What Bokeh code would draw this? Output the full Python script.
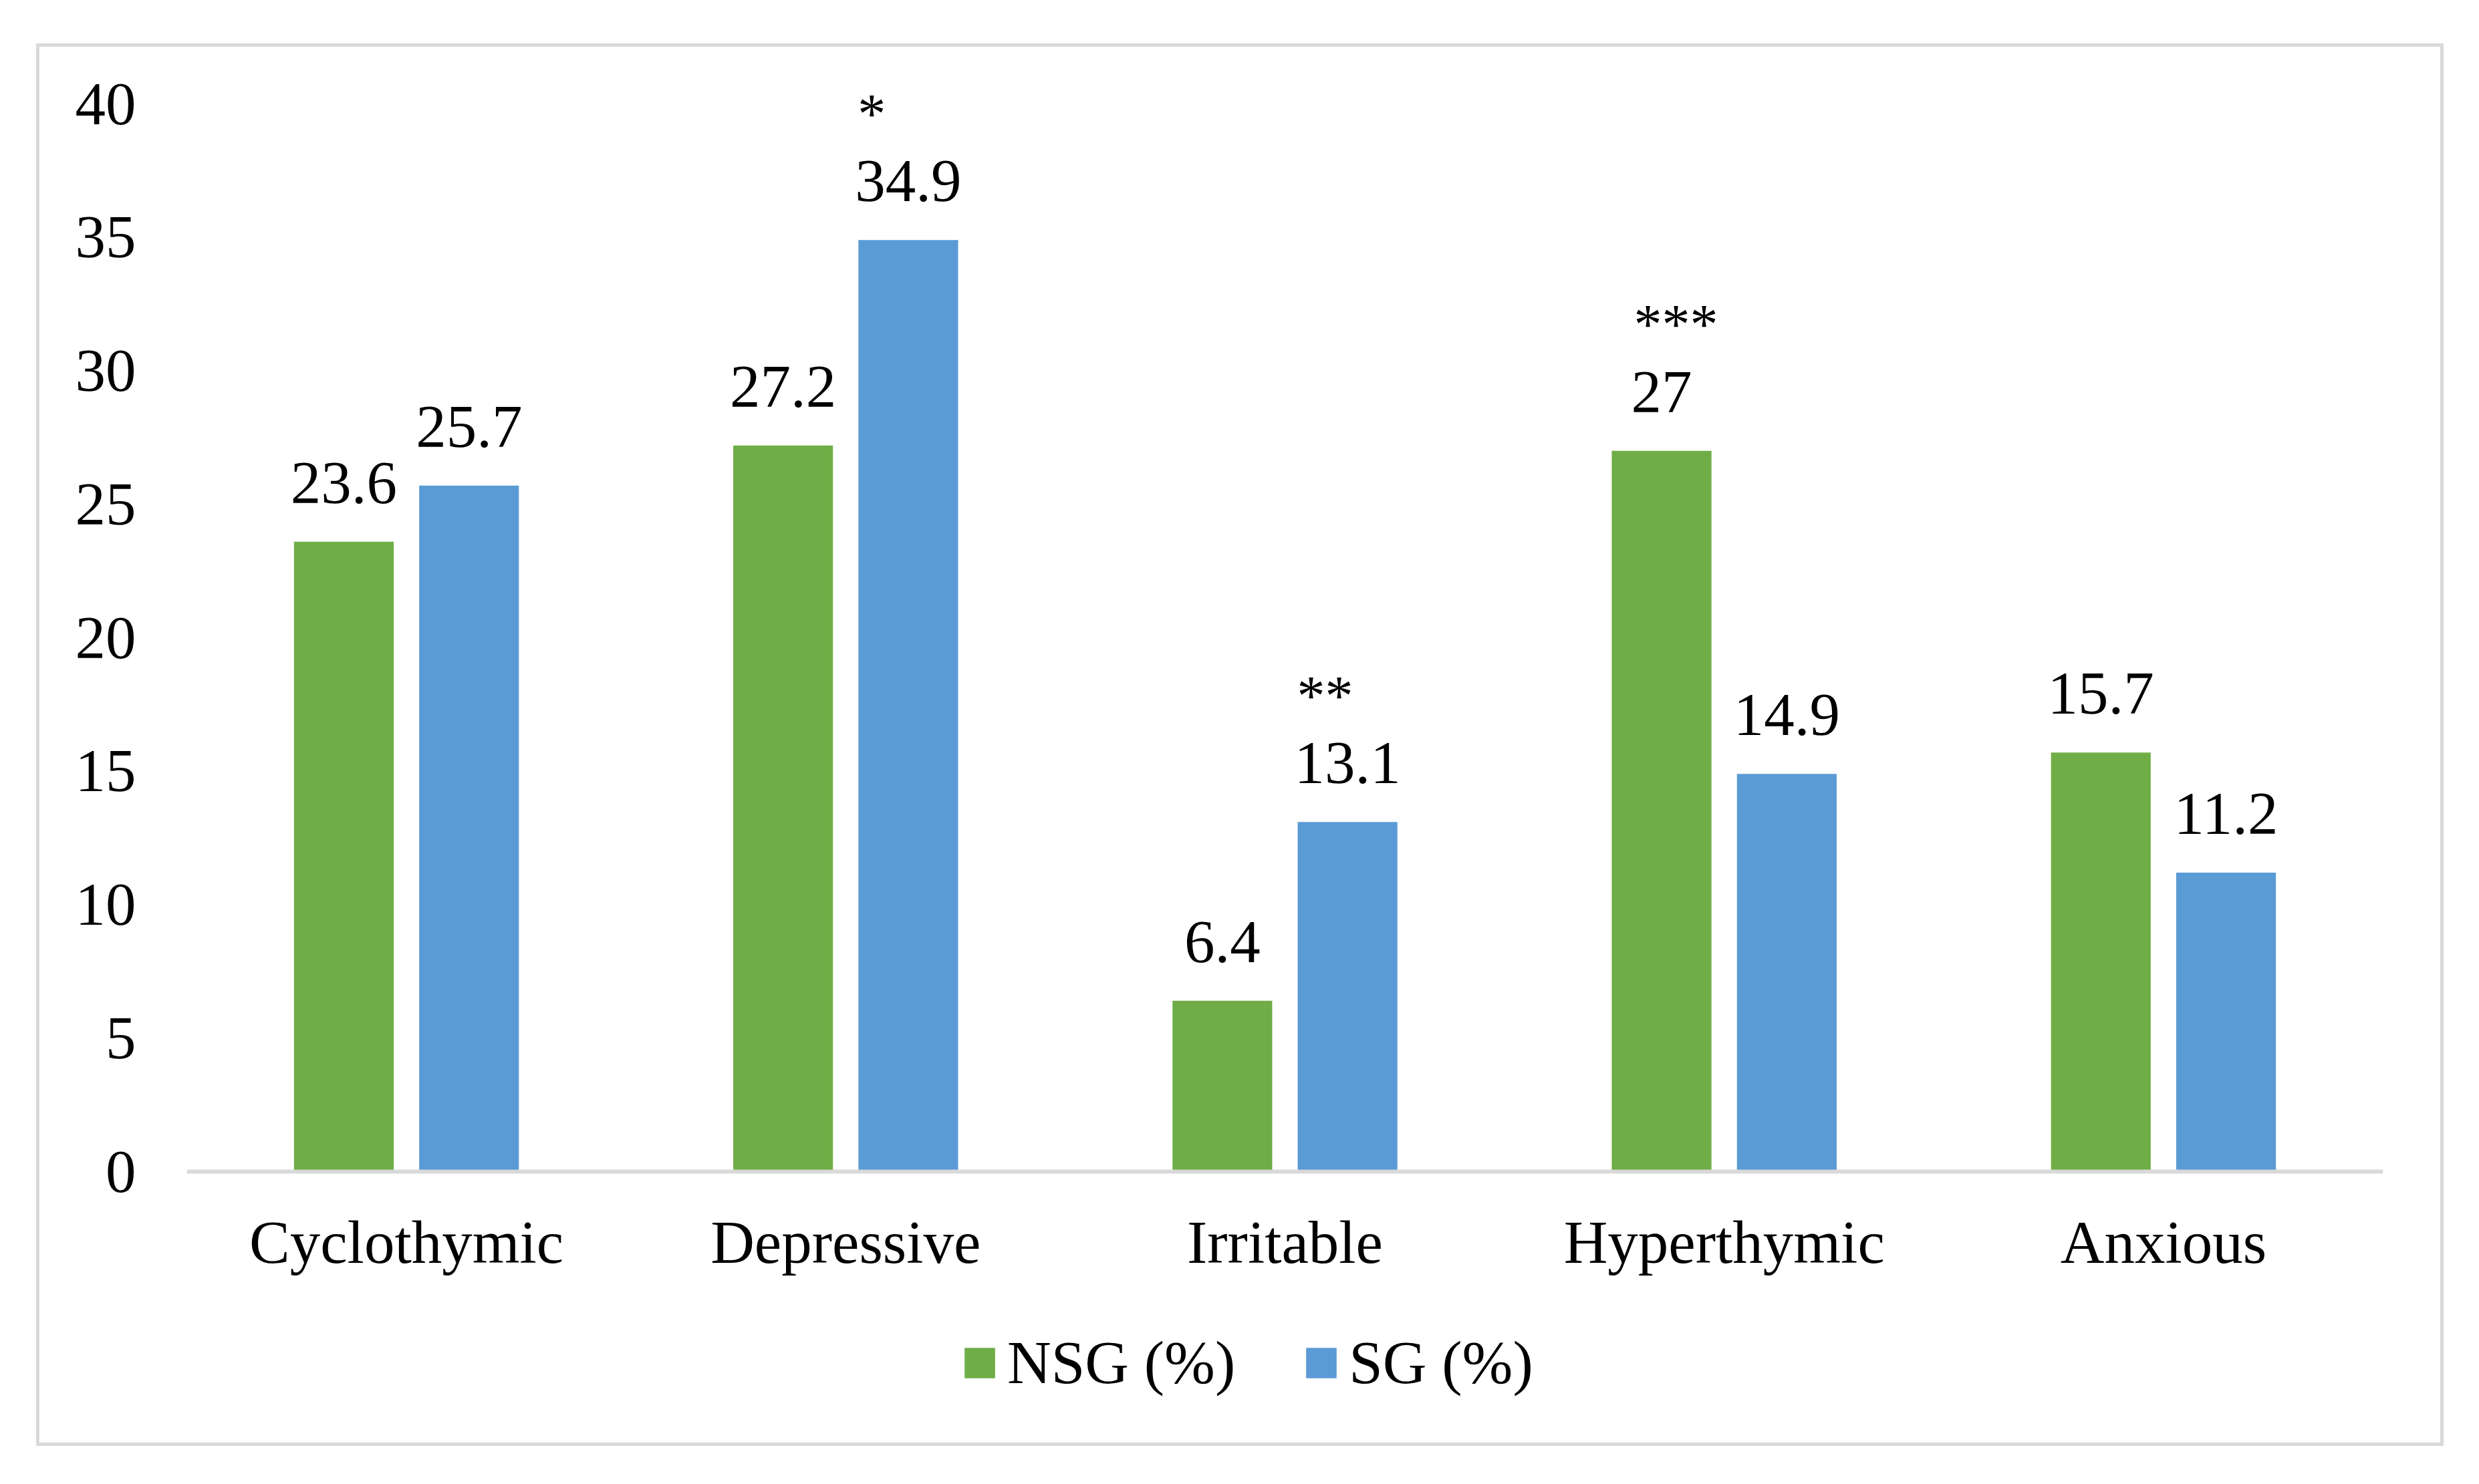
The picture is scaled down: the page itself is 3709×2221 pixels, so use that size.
from bokeh.plotting import figure
from bokeh.models import (ColumnDataSource, FactorRange, FixedTicker, Legend,
                          LegendItem, Range1d, Span)
from bokeh.transform import dodge
from bokeh.core.properties import value
from bokeh.embed import file_html
from bokeh.resources import INLINE

# ---- data ----
categories = ["Cyclothymic", "Depressive", "Irritable", "Hyperthymic", "Anxious"]
nsg = [23.6, 27.2, 6.4, 27.0, 15.7]
sg = [25.7, 34.9, 13.1, 14.9, 11.2]
nsg_labels = ["23.6", "27.2", "6.4", "27", "15.7"]
sg_labels = ["25.7", "34.9", "13.1", "14.9", "11.2"]
nsg_sig = ["", "", "", "***", ""]
sg_sig = ["", "*", "**", "", ""]
y_ticks = [0, 5, 10, 15, 20, 25, 30, 35, 40]
series_names = ["NSG (%)", "SG (%)"]

# ---- style ----
W, H = 3693, 2205
FONT = "Liberation Serif"
FS = 91
SIG_FS = 84
GREEN = "#70AD47"
BLUE = "#5B9BD5"
GRAYLINE = "#D9D9D9"
OFF = 0.1425
BW = 0.227
LAB_DY = -88
SIG_DY = -189
SIG_DX = 4
PX_PER_UNIT = 39.95
FRAME_TOP, FRAME_BOTTOM = 75, 2090
AXIS_Y = 1753
Y_MIN = -(FRAME_BOTTOM - AXIS_Y) / PX_PER_UNIT
Y_MAX = (AXIS_Y - FRAME_TOP) / PX_PER_UNIT
LABEL_GAP = 55


def text_width(s):
    w = 0.0
    for ch in s:
        w += 0.25 if ch == "." else 0.5
    return w * FS


src = ColumnDataSource(dict(
    cat=categories, nsg=nsg, sg=sg,
    nsg_lab=nsg_labels, sg_lab=sg_labels,
    nsg_sig=nsg_sig, sg_sig=sg_sig,
    nsg_xoff=[SIG_DX - text_width(s) / 2 for s in nsg_labels],
    sg_xoff=[SIG_DX - text_width(s) / 2 for s in sg_labels],
))

border_css = ("linear-gradient(#ffffff,#ffffff) 59px 70px / 3592px 2089px no-repeat, "
              "linear-gradient(#D9D9D9,#D9D9D9) 54px 65px / 3602px 2099px no-repeat")

p = figure(width=W, height=H,
           x_range=FactorRange(*categories, range_padding=0),
           y_range=Range1d(Y_MIN, Y_MAX),
           output_backend="svg", toolbar_location=None,
           min_border_left=279, min_border_right=128,
           min_border_top=FRAME_TOP, min_border_bottom=H - FRAME_BOTTOM,
           styles={"background": border_css})
p.outline_line_color = None
p.xgrid.visible = False
p.ygrid.visible = False
p.background_fill_alpha = 0
p.border_fill_alpha = 0

r1 = p.vbar(x=dodge("cat", -OFF, range=p.x_range), top="nsg", width=BW,
            source=src, fill_color=GREEN, line_color=None)
r2 = p.vbar(x=dodge("cat", OFF, range=p.x_range), top="sg", width=BW,
            source=src, fill_color=BLUE, line_color=None)

# category axis base line at y = 0
p.add_layout(Span(location=0, dimension="width", line_color=GRAYLINE,
                  line_width=6))

for col, lab, sig, xo in [("nsg", "nsg_lab", "nsg_sig", "nsg_xoff"),
                          ("sg", "sg_lab", "sg_sig", "sg_xoff")]:
    sign = -OFF if col == "nsg" else OFF
    p.text(x=dodge("cat", sign, range=p.x_range), y=col, text=lab, source=src,
           text_font=value(FONT), text_font_size=value(f"{FS}px"),
           text_align="center", text_baseline="alphabetic", y_offset=LAB_DY,
           text_color="black")
    p.text(x=dodge("cat", sign, range=p.x_range), y=col, text=sig, source=src,
           x_offset=xo,
           text_font=value(FONT), text_font_size=value(f"{SIG_FS}px"),
           text_align="left", text_baseline="alphabetic", y_offset=SIG_DY,
           text_color="black")

# axes
p.yaxis.ticker = FixedTicker(ticks=y_ticks)
p.yaxis.axis_line_color = None
p.yaxis.major_tick_line_color = None
p.yaxis.minor_tick_line_color = None
p.yaxis.major_tick_out = 0
p.yaxis.major_tick_in = 0
p.yaxis.major_label_standoff = 76
p.yaxis.major_label_text_font = FONT
p.yaxis.major_label_text_font_size = f"{FS}px"
p.yaxis.major_label_text_color = "black"

p.xaxis.fixed_location = -LABEL_GAP / PX_PER_UNIT
p.xaxis.axis_line_color = None
p.xaxis.major_tick_line_color = None
p.xaxis.minor_tick_line_color = None
p.xaxis.major_tick_out = 0
p.xaxis.major_tick_in = 0
p.xaxis.major_label_standoff = 0
p.xaxis.major_label_text_font = FONT
p.xaxis.major_label_text_font_size = f"{FS}px"
p.xaxis.major_label_text_color = "black"

legend = Legend(items=[LegendItem(label=series_names[0], renderers=[r1]),
                       LegendItem(label=series_names[1], renderers=[r2])],
                orientation="horizontal", location=(1158, -2),
                glyph_width=57, glyph_height=57, label_standoff=13,
                spacing=100, padding=0, margin=0,
                border_line_color=None, background_fill_alpha=0,
                label_text_font=FONT, label_text_font_size=f"{FS}px",
                label_text_color="black")
p.add_layout(legend, "center")

open("out.html", "w").write(file_html(p, INLINE))
